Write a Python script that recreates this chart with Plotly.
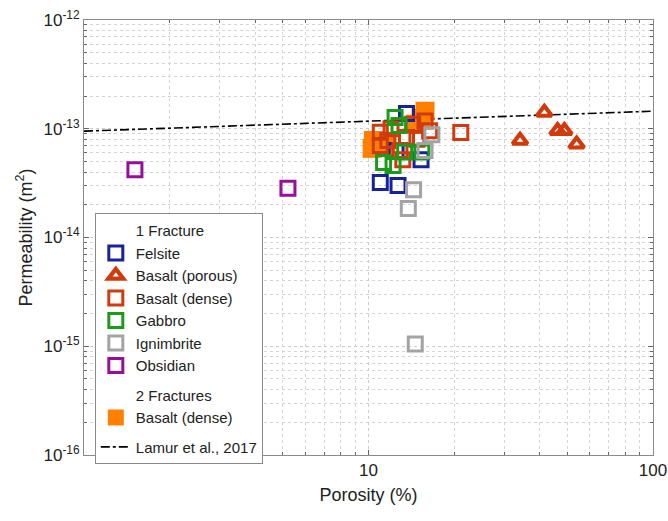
import plotly.graph_objects as go

# ---- data (porosity %, permeability m^2) ----
felsite_x = [13.6, 15.3, 12.5, 11.0, 12.7]
felsite_k = [1.38e-13, 5.2e-14, 6.3e-14, 3.2e-14, 3.0e-14]

basalt_porous_x = [41.5, 34.1, 46.2, 48.8, 53.9]
basalt_porous_k = [1.41e-13, 7.8e-14, 9.6e-14, 9.6e-14, 7.2e-14]

basalt_dense_x = [11.0, 11.0, 11.7, 13.6, 14.3, 15.8, 16.4, 13.2, 12.9, 21.1, 12.0, 14.8]
basalt_dense_k = [9.3e-14, 7.0e-14, 7.8e-14, 8.3e-14, 1.1e-13, 1.18e-13, 9.6e-14, 5.2e-14, 6.3e-14, 9.25e-14, 1.0e-13, 8.0e-14]

gabbro_x = [12.4, 12.8, 11.3, 12.2, 13.4, 15.4]
gabbro_k = [1.27e-13, 1.07e-13, 4.9e-14, 4.6e-14, 6.1e-14, 6.1e-14]

ignimbrite_x = [16.7, 15.8, 14.4, 13.8, 14.6]
ignimbrite_k = [8.8e-14, 6.3e-14, 2.75e-14, 1.85e-14, 1.05e-15]

obsidian_x = [1.51, 5.21]
obsidian_k = [4.2e-14, 2.83e-14]

two_frac_x = [15.8, 15.3, 10.4, 10.3, 14.6, 11.5]
two_frac_k = [1.45e-13, 1.25e-13, 7.8e-14, 6.6e-14, 1.1e-13, 7.2e-14]

lamur_x = [1, 100]
lamur_k = [9.5e-14, 1.45e-13]

y_tickvals = [1e-16, 1e-15, 1e-14, 1e-13, 1e-12]
y_ticktext = ["10<sup>-16</sup>", "10<sup>-15</sup>", "10<sup>-14</sup>", "10<sup>-13</sup>", "10<sup>-12</sup>"]
x_tickvals = [10, 100]
x_ticktext = ["10", "100"]

C_BLUE = "#15229a"
C_RED = "#d03a0c"
C_GREEN = "#1c9a1c"
C_GREY = "#a3a3a3"
C_PURPLE = "#950f9b"
C_ORANGE = "#ff8000"
FONT = "Arial, Liberation Sans, sans-serif"

fig = go.Figure()

# Lamur line (drawn first, beneath points)
fig.add_trace(go.Scatter(x=lamur_x, y=lamur_k, mode="lines", name="Lamur et al., 2017",
                         line=dict(color="black", width=1.6, dash="dashdot"),
                         legendgroup="g3", legendrank=12))

# 2 fractures filled squares
fig.add_trace(go.Scatter(x=two_frac_x, y=two_frac_k, mode="markers", name="Basalt (dense)",
                         marker=dict(symbol="square", size=19, color=C_ORANGE, line=dict(width=0)),
                         legendgroup="g2", legendrank=11))

def open_sq(x, y, name, color, rank):
    return go.Scatter(x=x, y=y, mode="markers", name=name,
                      marker=dict(symbol="square-open", size=14, color=color,
                                  line=dict(width=3, color=color)),
                      legendgroup="g1", legendrank=rank)

fig.add_trace(open_sq(felsite_x, felsite_k, "Felsite", C_BLUE, 2))
fig.add_trace(go.Scatter(x=basalt_porous_x, y=basalt_porous_k, mode="markers", name="Basalt (porous)",
                         marker=dict(symbol="triangle-up-open", size=13, color=C_RED,
                                     line=dict(width=4.2, color=C_RED)),
                         legendgroup="g1", legendrank=3))
fig.add_trace(open_sq(basalt_dense_x, basalt_dense_k, "Basalt (dense)", C_RED, 4))
fig.add_trace(open_sq(gabbro_x, gabbro_k, "Gabbro", C_GREEN, 5))
fig.add_trace(open_sq(ignimbrite_x, ignimbrite_k, "Ignimbrite", C_GREY, 6))
fig.add_trace(open_sq(obsidian_x, obsidian_k, "Obsidian", C_PURPLE, 7))

# legend headings
fig.add_trace(go.Scatter(x=[None], y=[None], mode="markers", name="1 Fracture",
                         marker=dict(color="rgba(0,0,0,0)"), legendgroup="g1", legendrank=1))
fig.add_trace(go.Scatter(x=[None], y=[None], mode="markers", name="2 Fractures",
                         marker=dict(color="rgba(0,0,0,0)"), legendgroup="g2", legendrank=10))

minor_x = [m * 10 ** e for e in range(0, 2) for m in range(2, 10)]
minor_y = [m * 10.0 ** e for e in range(-16, -12) for m in range(2, 10)]

axis_common = dict(
    showline=True, linecolor="#8a8a8a", linewidth=1, mirror="allticks",
    ticks="inside", ticklen=5, tickcolor="#666", tickwidth=1,
    showgrid=True, gridcolor="#cccccc", gridwidth=1, griddash="dot",
    zeroline=False, automargin=False,
    tickfont=dict(family=FONT, size=17, color="#222"),
)

fig.update_xaxes(type="log", range=[0, 2], tickvals=x_tickvals, ticktext=x_ticktext,
                 title=dict(text="Porosity (%)", font=dict(family=FONT, size=18, color="#222"), standoff=8),
                 minor=dict(tickvals=minor_x, ticks="inside", ticklen=3, tickcolor="#666",
                            showgrid=True, gridcolor="#d4d4d4", griddash="dot", gridwidth=1),
                 **axis_common)
fig.update_yaxes(type="log", range=[-16, -12], tickvals=y_tickvals, ticktext=y_ticktext,
                 title=dict(text="Permeability (m<sup>2</sup>)", font=dict(family=FONT, size=18, color="#222"), standoff=6),
                 minor=dict(tickvals=minor_y, ticks="inside", ticklen=3, tickcolor="#666",
                            showgrid=True, gridcolor="#d4d4d4", griddash="dot", gridwidth=1),
                 **axis_common)

fig.update_layout(
    width=668, height=521,
    margin=dict(l=84, r=15, t=20, b=66),
    paper_bgcolor="white", plot_bgcolor="white",
    font=dict(family=FONT, color="#222"),
    legend=dict(x=0.019, y=0.556, xanchor="left", yanchor="top",
                bgcolor="white", bordercolor="#8a8a8a", borderwidth=1,
                font=dict(family=FONT, size=15, color="#222"),
                traceorder="grouped", tracegroupgap=7, itemwidth=30),
    showlegend=True,
)

fig.write_html("out.html")
